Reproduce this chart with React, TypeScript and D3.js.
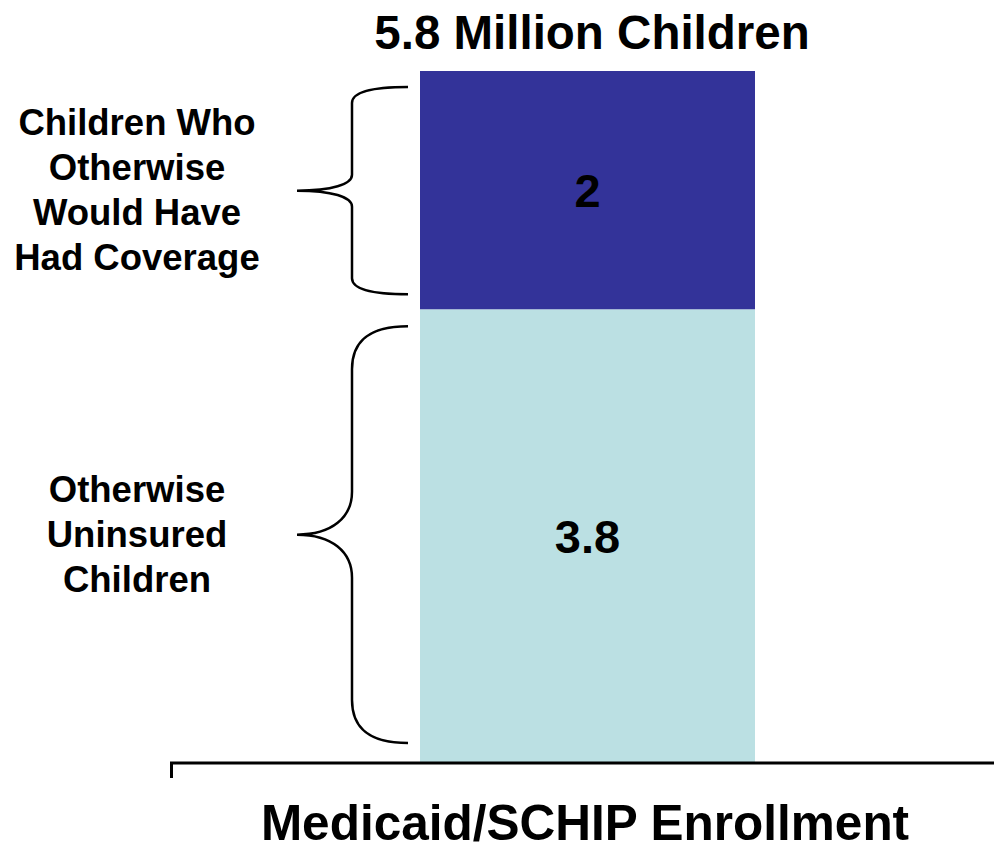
import React from "react";
import * as d3 from "d3";

const categories = ["Medicaid/SCHIP Enrollment"];
const segmentNames = ["Otherwise Uninsured Children", "Children Who Otherwise Would Have Had Coverage"];
const segmentValues = [3.8, 2];
const segmentLabels = ["3.8", "2"];
const segmentColors = ["#BBE0E3", "#333399"];
const sideLabels = [
  ["Otherwise", "Uninsured", "Children"],
  ["Children Who", "Otherwise", "Would Have", "Had Coverage"],
];
const title = "5.8 Million Children";

const W = 994;
const H = 851;
const FONT = "'Liberation Sans', Arial, Helvetica, sans-serif";

function bracePath(y0: number, y1: number, r: number) {
  const xe = 408;
  const xv = 352;
  const xt = 297;
  const ym = (y0 + y1) / 2;
  return [
    `M${xe},${y0}`,
    `C${xv + 12},${y0} ${xv},${y0 + r * 0.45} ${xv},${y0 + r}`,
    `L${xv},${ym - r}`,
    `C${xv},${ym - r * 0.4} ${xv - 20},${ym} ${xt},${ym}`,
    `C${xv - 20},${ym} ${xv},${ym + r * 0.4} ${xv},${ym + r}`,
    `L${xv},${y1 - r}`,
    `C${xv},${y1 - r * 0.45} ${xv + 12},${y1} ${xe},${y1}`,
  ].join(" ");
}

export default function App() {
  const y = d3.scaleLinear().domain([0, 5.8]).range([762, 71]);
  const x = d3.scaleBand().domain(categories).range([420, 755]).padding(0);
  const stacked = segmentValues.map((v, i) => {
    const start = d3.sum(segmentValues.slice(0, i));
    return { start, end: start + v, i };
  });
  const bx = x(categories[0]) as number;
  const bw = x.bandwidth();
  const cx = bx + bw / 2;

  const braceInsets = [
    { top: 17, bottom: 19, r: 43 },
    { top: 16, bottom: 15, r: 16 },
  ];

  return (
    <svg width={W} height={H} style={{ display: "block", position: "absolute", left: 0, top: 0 }}>
      <rect width={W} height={H} fill="#ffffff" />
      <text x={592} y={49} textAnchor="middle" fontFamily={FONT} fontWeight="bold" fontSize={47.5} fill="#000">
        {title}
      </text>
      {stacked.map((s) => (
        <g key={s.i}>
          <rect
            x={bx}
            y={y(s.end)}
            width={bw}
            height={y(s.start) - y(s.end)}
            fill={segmentColors[s.i]}
          />
          <text
            x={cx}
            y={(y(s.start) + y(s.end)) / 2 + 17}
            textAnchor="middle"
            fontFamily={FONT}
            fontWeight="bold"
            fontSize={47}
            fill="#000"
          >
            {segmentLabels[s.i]}
          </text>
        </g>
      ))}
      {stacked.map((s) => {
        const ins = braceInsets[s.i];
        const y0 = y(s.end) + ins.top;
        const y1 = y(s.start) - ins.bottom;
        const ym = (y0 + y1) / 2;
        const lines = sideLabels[s.i];
        const lh = 45;
        const firstBase = ym - ((lines.length - 1) * lh) / 2 + 12;
        return (
          <g key={"b" + s.i}>
            <path d={bracePath(y0, y1, ins.r)} fill="none" stroke="#000" strokeWidth={2.5} />
            <text textAnchor="middle" fontFamily={FONT} fontWeight="bold" fontSize={36.5} fill="#000">
              {lines.map((l, k) => (
                <tspan key={k} x={137} y={firstBase + k * lh}>
                  {l}
                </tspan>
              ))}
            </text>
          </g>
        );
      })}
      <line x1={170} x2={994} y1={763} y2={763} stroke="#000" strokeWidth={3} />
      <line x1={171.5} x2={171.5} y1={762} y2={778} stroke="#000" strokeWidth={3} />
      <text x={585} y={840} textAnchor="middle" fontFamily={FONT} fontWeight="bold" fontSize={49.5} fill="#000">
        {categories[0]}
      </text>
    </svg>
  );
}
